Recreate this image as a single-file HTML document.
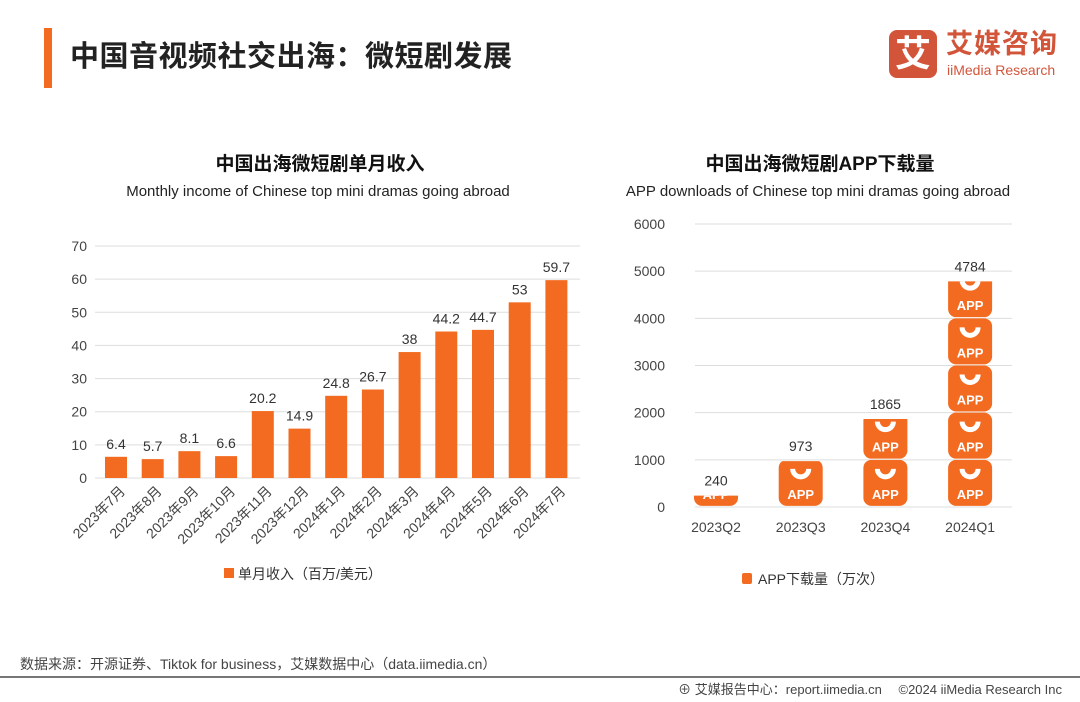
<!DOCTYPE html>
<html><head><meta charset="utf-8">
<style>
body{margin:0;width:1080px;height:702px;background:#fff;font-family:"Liberation Sans","Noto Sans CJK SC",sans-serif;overflow:hidden;position:relative}
.abs{position:absolute}
</style></head><body>
<div class="abs" style="left:44px;top:28px;width:8px;height:60px;background:#f26b21"></div>
<div class="abs" style="left:70px;top:33px;font-size:29px;font-weight:bold;color:#222;letter-spacing:0.5px">中国音视频社交出海：微短剧发展</div>
<div class="abs" style="left:889px;top:30px;width:48px;height:48px;background:#d2553a;border-radius:8px;color:#fff;font-size:36px;font-weight:bold;text-align:center;line-height:48px">艾</div>
<div class="abs" style="left:946px;top:29px;font-size:27px;line-height:30px;font-weight:bold;color:#d2553a;letter-spacing:1px">艾媒咨询</div>
<div class="abs" style="left:947px;top:62px;font-size:14px;line-height:16px;color:#d2553a">iiMedia Research</div>

<svg class="abs" style="left:0;top:0" width="1080" height="702">
<defs>
<g id="appicon">
<rect x="0" y="0" width="44" height="46" rx="8" fill="#f26b21"/>
<path d="M14 9 A8 8 0 0 0 30 9" stroke="#fff" stroke-width="5" fill="none"/>
<text x="22" y="39" font-size="13" font-weight="bold" fill="#fff" text-anchor="middle" font-family="Liberation Sans">APP</text>
</g>
</defs>
<text x="320" y="170" font-size="19" font-weight="bold" text-anchor="middle" fill="#111">中国出海微短剧单月收入</text>
<text x="318" y="196" font-size="15" text-anchor="middle" fill="#222">Monthly income of Chinese top mini dramas going abroad</text>
<text x="820" y="170" font-size="19" font-weight="bold" text-anchor="middle" fill="#111">中国出海微短剧APP下载量</text>
<text x="818" y="196" font-size="15" text-anchor="middle" fill="#222">APP downloads of Chinese top mini dramas going abroad</text>
<g id="left"></g><g id="right"></g>
<rect x="224" y="568" width="10" height="10" fill="#f26b21"/>
<text x="238" y="579" font-size="14" fill="#333">单月收入（百万/美元）</text>
<rect x="742" y="573" width="10" height="11" rx="2" fill="#f26b21"/>
<text x="758" y="584" font-size="14" fill="#333">APP下载量（万次）</text>
<text x="20" y="669" font-size="14" fill="#444">数据来源：开源证券、Tiktok for business，艾媒数据中心（data.iimedia.cn）</text>
<line x1="0" y1="677" x2="1080" y2="677" stroke="#777" stroke-width="2"/>
<text x="1062" y="694" font-size="13" fill="#444" text-anchor="end">⊕ 艾媒报告中心：report.iimedia.cn　 ©2024  iiMedia Research  Inc</text>
</svg>
<script>
const NS="http://www.w3.org/2000/svg";
const incomeCats=["2023年7月","2023年8月","2023年9月","2023年10月","2023年11月","2023年12月","2024年1月","2024年2月","2024年3月","2024年4月","2024年5月","2024年6月","2024年7月"];
const incomeVals=[6.4,5.7,8.1,6.6,20.2,14.9,24.8,26.7,38,44.2,44.7,53,59.7];
const incomeTicks=[0,10,20,30,40,50,60,70];
const appCats=["2023Q2","2023Q3","2023Q4","2024Q1"];
const appVals=[240,973,1865,4784];
const appTicks=[0,1000,2000,3000,4000,5000,6000];
function mk(t,a,p,txt){const e=document.createElementNS(NS,t);for(const k in a)e.setAttribute(k,a[k]);if(txt!==undefined)e.textContent=txt;p.appendChild(e);return e;}
const L=document.getElementById('left');
const ly=v=>478-v*(232/70);
const lx=i=>116+i*36.7;
incomeTicks.forEach(t=>{
 const g=mk('line',{x1:95,x2:580,y1:ly(t),y2:ly(t),stroke:'#ddd'},L);
 
 const tx=mk('text',{x:87,y:ly(t)+5,'font-size':14,fill:'#444','text-anchor':'end'},L,t);
 
});
incomeVals.forEach((v,i)=>{
 const r=mk('rect',{x:lx(i)-11,y:ly(v),width:22,height:ly(0)-ly(v),fill:'#f26b21'},L);
 
 const t=mk('text',{x:lx(i),y:ly(v)-8,'font-size':14,fill:'#333','text-anchor':'middle'},L,v);
 
 const c=mk('text',{x:lx(i)+10,y:492,'font-size':14,fill:'#444','text-anchor':'end',transform:`rotate(-45 ${lx(i)+10} 492)`},L,incomeCats[i]);
 
});
const R=document.getElementById('right');
const ry=v=>507-v*(283/6000);
const rx=i=>716+i*84.7;
appTicks.forEach(t=>{
 const g=mk('line',{x1:695,x2:1012,y1:ry(t),y2:ry(t),stroke:'#ddd'},R);
 
 const tx=mk('text',{x:665,y:ry(t)+5,'font-size':14,fill:'#444','text-anchor':'end'},R,t);
 
});
const defs=document.querySelector('defs');
appVals.forEach((v,i)=>{
 const cp=mk('clipPath',{id:'cp'+i},defs);
 mk('rect',{x:rx(i)-23,y:ry(v),width:46,height:ry(0)-ry(v)+1},cp);
 const g=mk('g',{'clip-path':`url(#cp${i})`},R);
 
 for(let k=0;k<Math.ceil(v/1000);k++){
  mk('use',{href:'#appicon',x:rx(i)-22,y:ry((k+1)*1000)},g);
 }
 const t=mk('text',{x:rx(i),y:ry(v)-10,'font-size':14,fill:'#333','text-anchor':'middle'},R,v);
 
 const c=mk('text',{x:rx(i),y:532,'font-size':14,fill:'#444','text-anchor':'middle'},R,appCats[i]);
 
});
</script>
</body></html>
